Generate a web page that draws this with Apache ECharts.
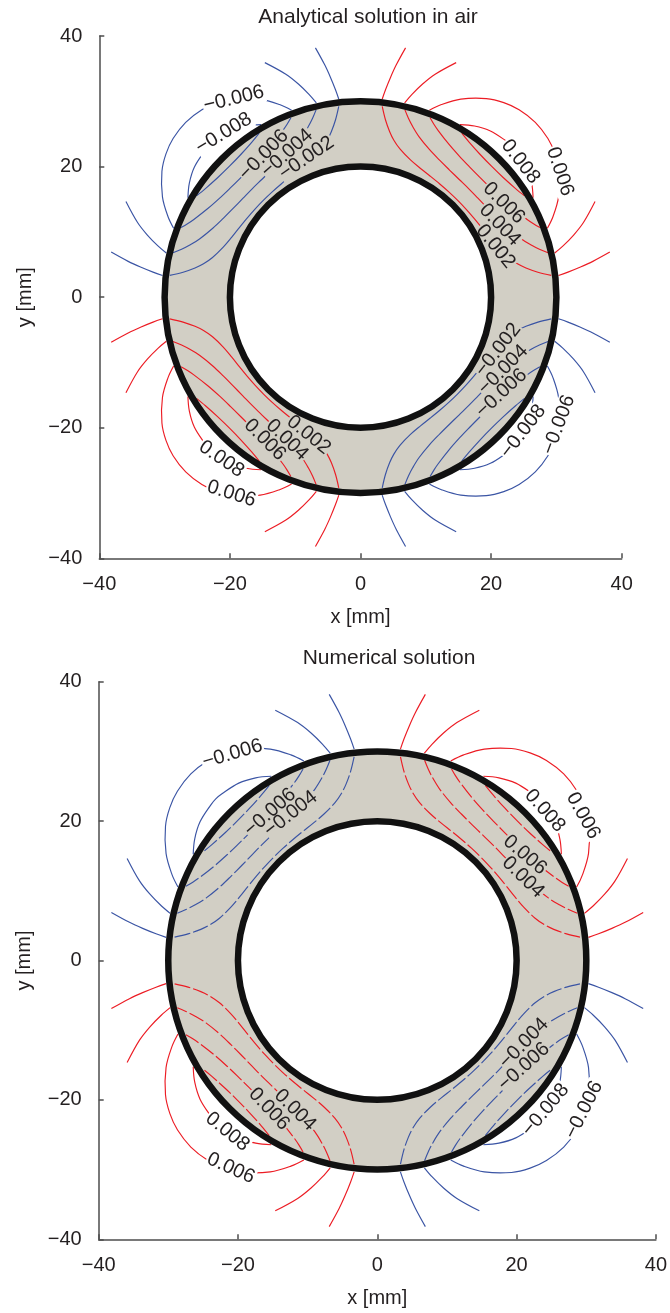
<!DOCTYPE html>
<html><head><meta charset="utf-8">
<script src="https://cdn.jsdelivr.net/npm/echarts@6/dist/echarts.min.js"></script>
<style>html,body{margin:0;padding:0;background:#fff}#c{width:670px;height:1313px}</style>
</head><body><div id="c"></div>
<script>
// ---------------- data (mm) ----------------
const titles = ['Analytical solution in air', 'Numerical solution'];
const axisRange = [-40, 40];
const axisStep = 20;
const ringRadii = [20, 30];           // inner / outer radius of the ring
const contourLevels = [0.002, 0.004, 0.006, 0.008];

// contour lines of the first quadrant (x>0, y>0, positive levels);
// the other quadrants are the mirror images seen in the picture
const in002 = [[3.33,29.21],[3.82,27.17],[4.47,25.34],[5.11,24.04],[6.07,22.66],[7.65,21.02],[9.19,19.71],[10.69,18.52],[12.14,17.33],[13.52,16.12],[14.85,14.85],[16.12,13.52],[17.33,12.14],[18.52,10.69],[19.71,9.19],[21.02,7.65],[22.66,6.07],[24.04,5.11],[25.34,4.47],[27.17,3.82],[29.21,3.33]];
const in004 = [[6.79,28.72],[7.34,27.40],[7.99,26.14],[8.95,24.60],[10.55,22.62],[12.11,20.98],[13.63,19.47],[15.12,18.02],[16.59,16.59],[18.02,15.12],[19.47,13.63],[20.98,12.11],[22.62,10.55],[24.60,8.95],[26.14,7.99],[27.40,7.34],[28.72,6.79]];
const in006 = [[10.66,27.48],[11.24,26.49],[11.90,25.52],[13.53,23.43],[15.13,21.61],[16.73,19.93],[18.32,18.32],[19.93,16.73],[21.61,15.13],[23.43,13.53],[25.52,11.90],[26.49,11.24],[27.48,10.66]];
const in008 = [[15.51,25.12],[16.63,23.75],[18.33,21.85],[20.06,20.06],[21.85,18.33],[23.75,16.63],[25.12,15.51]];
const out002a = [[3.32,30.32],[3.83,31.77],[4.61,33.69],[5.48,35.58],[6.90,38.18]];
const out002b = [[30.32,3.32],[31.77,3.83],[33.69,4.61],[35.58,5.48],[38.18,6.90]];
const out004a = [[6.76,29.74],[7.85,31.02],[9.51,32.64],[11.43,34.14],[14.65,35.92]];
const out004b = [[29.74,6.76],[31.02,7.85],[32.64,9.51],[34.14,11.43],[35.92,14.65]];
const out006 = [[10.55,28.62],[12.40,29.50],[15.37,30.33],[19.27,30.41],[21.94,29.79],[24.29,28.70],[26.77,26.77],[28.70,24.29],[29.79,21.94],[30.41,19.27],[30.33,15.37],[29.50,12.40],[28.62,10.55]];
const out008 = [[15.23,26.43],[17.46,26.21],[19.89,25.45],[22.30,23.92],[23.19,23.19],[23.92,22.30],[25.45,19.89],[26.21,17.46],[26.43,15.23]];

// contour labels: text, position [x, y] (mm), angle (deg)
const topLabelText = ['0.008','0.006','0.006','0.004','0.002','\u22120.006','\u22120.008','\u22120.006','\u22120.004','\u22120.002','0.008','0.006','0.006','0.004','0.002','\u22120.002','\u22120.004','\u22120.006','\u22120.008','\u22120.006'];
const topLabelXY = [[24.5,20.77],[30.53,19.24],[21.95,14.4],[21.33,11.07],[20.67,7.75],[-19.40,30.37],[-20.93,25.1],[-14.81,21.79],[-11.24,22.05],[-8.27,21.29],[-21.29,-24.81],[-19.76,-30.12],[-14.66,-21.85],[-11.24,-21.85],[-7.92,-21.09],[21.07,-8.07],[21.84,-11.13],[21.59,-14.70],[24.9,-20.58],[30.37,-19.56]];
const topLabelAngle = [-52,-71.6,-45,-46,-51,13.7,31.2,46,42,34.5,-34.2,-17.4,-45,-44,-39,52,45,43,52.5,69.6];
const botLabelText = ['\u22120.006','\u22120.006','\u22120.004','0.008','0.006','0.006','0.004','0.008','0.006','0.006','0.004','\u22120.004','\u22120.006','\u22120.008','\u22120.006'];
const botLabelXY = [[-20.80,29.63],[-15.39,21.26],[-12.42,21.02],[24.06,21.49],[29.56,20.78],[21.19,15.14],[20.95,11.94],[-21.52,-24.56],[-21.03,-29.82],[-15.54,-21.31],[-11.81,-21.45],[21.05,-11.88],[21.05,-15.24],[24.16,-21.45],[29.66,-21.45]];
const botLabelAngle = [16.6,41.8,38.4,-48.4,-61,-40,-44,-39.2,-24.3,-47,-45,46,42,50.2,63.4];

// ---------------- styling ----------------
const RED = '#ec1c24', BLUE = '#3a54a4', RINGFILL = '#d2cfc5', RINGLINE = '#111111', TXT = '#231f20', AXC = '#4d4d4d';
const FONT = '"Liberation Sans", Arial, sans-serif';
const gridsPx = [
  {left: 99.3, top: 36, width: 522.4, height: 522.3},
  {left: 98.7, top: 681.7, width: 557.3, height: 557.6}
];
const fmt = v => (v < 0 ? '\u2212' + Math.abs(v) : String(v));

function mir(a, sx, sy) { return a.map(p => [sx * p[0], sy * p[1]]); }
const innerQ1 = [in002, in004, in006, in008];
const outerQ1 = [out002a, out002b, out004a, out004b, out006, out008];
const quads = [{sx: 1, sy: 1, c: RED}, {sx: -1, sy: 1, c: BLUE}, {sx: -1, sy: -1, c: RED}, {sx: 1, sy: -1, c: BLUE}];

const series = [];
const labelSets = [
  {text: topLabelText, xy: topLabelXY, ang: topLabelAngle},
  {text: botLabelText, xy: botLabelXY, ang: botLabelAngle}
];

[0, 1].forEach(gi => {
  // ring fill
  series.push({
    type: 'custom', xAxisIndex: gi, yAxisIndex: gi, z: 1, silent: true, animation: false,
    data: [[0, 0, ringRadii[1], ringRadii[0]]],
    renderItem: (p, api) => {
      const c = api.coord([api.value(0), api.value(1)]);
      const ro = api.size([api.value(2), api.value(2)]);
      const ri = api.size([api.value(3), api.value(3)]);
      return {type: 'ring', shape: {cx: c[0], cy: c[1], r: (ro[0] + ro[1]) / 2, r0: (ri[0] + ri[1]) / 2}, style: {fill: RINGFILL}};
    }
  });
  // contour lines (smooth polylines through the read points)
  const defs = [];
  quads.forEach(q => {
    innerQ1.forEach(l => defs.push({pts: mir(l, q.sx, q.sy), color: q.c, dash: gi === 1 ? [16, 3] : null}));
    outerQ1.forEach(l => defs.push({pts: mir(l, q.sx, q.sy), color: q.c, dash: null}));
  });
  series.push({
    type: 'custom', xAxisIndex: gi, yAxisIndex: gi, z: 2, silent: true, animation: false,
    data: defs.map((d, k) => [d.pts[0][0], d.pts[0][1], k]),
    renderItem: (p, api) => {
      const d = defs[api.value(2)];
      const pts = d.pts.map(pt => api.coord(pt));
      return {type: 'polyline', shape: {points: pts, smooth: 0.35},
        style: {fill: null, stroke: d.color, lineWidth: 1.15, lineDash: d.dash}};
    }
  });
  const L = labelSets[gi];
  const labelData = L.xy.map((p, i) => [p[0], p[1], L.ang[i]]);
  // label backgrounds (mask the lines)
  series.push({
    type: 'custom', xAxisIndex: gi, yAxisIndex: gi, z: 3, silent: true, animation: false,
    data: labelData,
    renderItem: (p, api) => {
      const x = api.value(0), y = api.value(1);
      const c = api.coord([x, y]);
      const r = Math.hypot(x, y);
      const bg = (r > ringRadii[0] && r < ringRadii[1]) ? RINGFILL : '#ffffff';
      return {type: 'text', x: c[0], y: c[1], rotation: api.value(2) * Math.PI / 180,
        style: {text: L.text[p.dataIndex], fill: 'rgba(0,0,0,0)', fontSize: 20, fontFamily: FONT,
          align: 'center', verticalAlign: 'middle', backgroundColor: bg, padding: [0, 1]}};
    }
  });
  // ring outlines
  series.push({
    type: 'custom', xAxisIndex: gi, yAxisIndex: gi, z: 4, silent: true, animation: false,
    data: ringRadii.map(r => [0, 0, r]),
    renderItem: (p, api) => {
      const c = api.coord([api.value(0), api.value(1)]);
      const s = api.size([api.value(2), api.value(2)]);
      return {type: 'circle', shape: {cx: c[0], cy: c[1], r: (s[0] + s[1]) / 2}, style: {fill: 'none', stroke: RINGLINE, lineWidth: 6.5}};
    }
  });
  // label texts
  series.push({
    type: 'custom', xAxisIndex: gi, yAxisIndex: gi, z: 5, silent: true, animation: false,
    data: labelData,
    renderItem: (p, api) => {
      const c = api.coord([api.value(0), api.value(1)]);
      return {type: 'text', x: c[0], y: c[1], rotation: api.value(2) * Math.PI / 180,
        style: {text: L.text[p.dataIndex], fill: TXT, fontSize: 20, fontFamily: FONT, align: 'center', verticalAlign: 'middle'}};
    }
  });
});

function xAx(gi) {
  return {gridIndex: gi, type: 'value', min: axisRange[0], max: axisRange[1], interval: axisStep,
    axisLine: {show: true, onZero: false, lineStyle: {color: AXC, width: 1.5}},
    axisTick: {show: true, inside: true, length: 5, lineStyle: {color: AXC, width: 1.5}},
    axisLabel: {fontSize: 20, color: TXT, fontFamily: FONT, margin: 16, formatter: fmt},
    splitLine: {show: false},
    name: 'x [mm]', nameLocation: 'middle', nameGap: 49, nameTextStyle: {fontSize: 20, color: TXT, fontFamily: FONT}};
}
function yAx(gi) {
  return {gridIndex: gi, type: 'value', min: axisRange[0], max: axisRange[1], interval: axisStep,
    axisLine: {show: true, onZero: false, lineStyle: {color: AXC, width: 1.5}},
    axisTick: {show: true, inside: true, length: 5, lineStyle: {color: AXC, width: 1.5}},
    axisLabel: {fontSize: 20, color: TXT, fontFamily: FONT, margin: 17, formatter: fmt},
    splitLine: {show: false},
    name: 'y [mm]', nameLocation: 'middle', nameGap: 64, nameTextStyle: {fontSize: 20, color: TXT, fontFamily: FONT}};
}

const chart = echarts.init(document.getElementById('c'), null, {renderer: 'canvas'});
chart.setOption({
  animation: false,
  backgroundColor: '#ffffff',
  title: [
    {text: titles[0], left: 363, top: 2, textAlign: 'center', textStyle: {fontSize: 21, fontWeight: 'normal', color: TXT, fontFamily: FONT}},
    {text: titles[1], left: 384, top: 643, textAlign: 'center', textStyle: {fontSize: 21, fontWeight: 'normal', color: TXT, fontFamily: FONT}}
  ],
  grid: gridsPx.map(g => Object.assign({containLabel: false}, g)),
  xAxis: [xAx(0), xAx(1)],
  yAxis: [yAx(0), yAx(1)],
  series: series
});
</script></body></html>
